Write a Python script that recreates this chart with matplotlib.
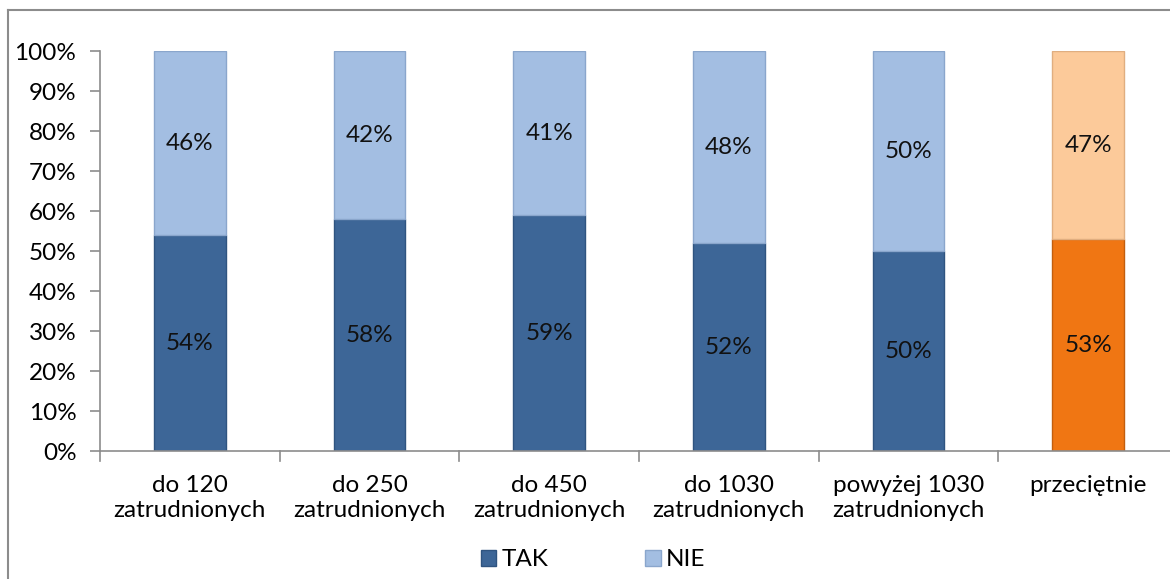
import matplotlib.pyplot as plt
from matplotlib.lines import Line2D
from matplotlib.patches import Patch

categories = ["do 120\nzatrudnionych", "do 250\nzatrudnionych", "do 450\nzatrudnionych",
              "do 1030\nzatrudnionych", "powyżej 1030\nzatrudnionych", "przeciętnie"]
tak = [54, 58, 59, 52, 50, 53]
nie = [46, 42, 41, 48, 50, 47]

tak_colors = ["#3D6697"] * 5 + ["#F07613"]
nie_colors = ["#A3BEE2"] * 5 + ["#FCCA9A"]
tak_edges = ["#2F5480"] * 5 + ["#C25E0E"]
nie_edges = ["#8AA6CC"] * 5 + ["#E0AE80"]

plt.rcParams['font.family'] = ['Lato', 'DejaVu Sans']
FS = 17.5

W, H = 1170, 579
fig = plt.figure(figsize=(W / 100, H / 100), dpi=100)
ax = fig.add_axes([100 / W, (H - 451) / H, 1078 / W, 400 / H])

x = list(range(len(categories)))
ax.bar(x, tak, width=0.4, color=tak_colors, edgecolor=tak_edges, linewidth=1)
ax.bar(x, nie, width=0.4, bottom=tak, color=nie_colors, edgecolor=nie_edges, linewidth=1)

for i in x:
    ax.text(i, tak[i] / 2, f"{tak[i]}%", ha='center', va='center', fontsize=FS, color='#111111')
    ax.text(i, tak[i] + nie[i] / 2, f"{nie[i]}%", ha='center', va='center', fontsize=FS, color='#111111')

ax.set_xlim(-0.5, 5.5)
ax.set_ylim(0, 100)
ax.set_yticks(range(0, 101, 10))
ax.set_yticklabels([f"{v}%" for v in range(0, 101, 10)], fontsize=FS)
ax.set_xticks(x)
ax.set_xticklabels(categories, fontsize=FS, linespacing=1.25, va='top')
ax.tick_params(axis='x', length=0, pad=17)
ax.tick_params(axis='y', length=7, color='#8c8c8c', width=1.2, pad=10)
for i in range(6):
    ax.plot([i - 0.5, i - 0.5], [0, -2.5], color='#8c8c8c', lw=1.2, clip_on=False)

for s in ['top', 'right']:
    ax.spines[s].set_visible(False)
ax.spines['left'].set_color('#8c8c8c')
ax.spines['bottom'].set_color('#8c8c8c')
ax.spines['left'].set_linewidth(1.2)
ax.spines['bottom'].set_linewidth(1.2)

handles = [Patch(facecolor="#3D6697", edgecolor="#2F5480"), Patch(facecolor="#A3BEE2", edgecolor="#8AA6CC")]
fig.legend(handles, ["TAK", "NIE"], loc='center', bbox_to_anchor=(593 / W, (H - 560) / H),
           ncol=2, frameon=False, fontsize=FS, handlelength=0.65, handleheight=0.65,
           handletextpad=0.2, columnspacing=4.0)

# chart area border
fig.add_artist(Line2D([8 / W, 8 / W], [0, (H - 10) / H], color='#8c8c8c', lw=1.5))
fig.add_artist(Line2D([8 / W, 1], [(H - 10) / H, (H - 10) / H], color='#8c8c8c', lw=1.5))

fig.savefig("out.png", dpi=100)
